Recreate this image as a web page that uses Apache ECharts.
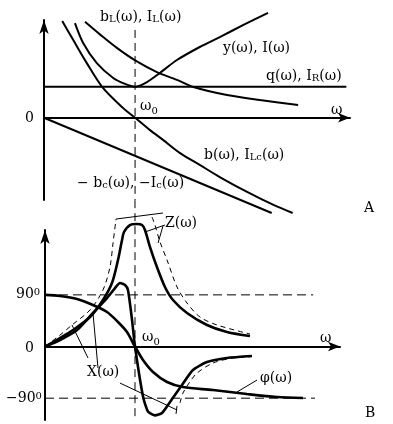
<!DOCTYPE html>
<html><head><meta charset="utf-8">
<script src="https://cdn.jsdelivr.net/npm/echarts@6/dist/echarts.min.js"></script>
<style>html,body{margin:0;padding:0;background:#fff}#c{width:393px;height:424px}</style>
</head><body><div id="c"></div>
<script>
// ---------- Panel A : admittances / currents (ω in units of ω0, values in units of q) ----------
const bCurve  = [[0.20,3.12],[0.32,2.51],[0.47,1.76],[0.64,0.99],[0.87,0.31],[1.0,0],[1.16,-0.39],[1.31,-0.72],[1.49,-1.13],[1.71,-1.52],[1.93,-1.91],[2.23,-2.39],[2.52,-2.81],[2.73,-3.07]];
const yCurve  = [[0.34,3.05],[0.43,2.41],[0.58,1.76],[0.76,1.28],[0.89,1.09],[1.0,1.0],[1.13,1.15],[1.27,1.44],[1.46,1.86],[1.71,2.28],[1.93,2.60],[2.19,2.99],[2.46,3.38]];
const bLCurve = [[0.45,3.09],[0.62,2.67],[0.80,2.25],[1.01,1.83],[1.24,1.47],[1.46,1.22],[1.64,0.99],[2.01,0.73],[2.37,0.57],[2.79,0.41]];
const bCLine  = [[0,0],[2.50,-3.07]];
const qLine   = [[0,1],[3.32,1]];
const w0LineA = [[1,2.83],[1,-2.65]];

// ---------- Panel B : impedances / phase (ω in units of ω0, values in degrees scale) ----------
const zCurve  = [[0,0],[0.167,14.8],[0.311,28.7],[0.5,51.4],[0.644,81],[0.744,110.6],[0.811,150.7],[0.856,185.5],[0.878,199.5],[0.944,211.7],[1.022,213.4],[1.078,211.7],[1.111,203],[1.167,173.3],[1.244,138.5],[1.333,103.7],[1.422,81],[1.578,58.4],[1.8,37.5],[2.022,25.3],[2.278,18.3]];
const zDashL  = [[0,0],[0.167,20],[0.3,37.5],[0.5,63.6],[0.644,98.4],[0.722,138.5],[0.756,180.3],[0.789,222.1]];
const zDashR  = [[1.189,225.6],[1.222,211.7],[1.278,182.1],[1.356,150.7],[1.467,103.7],[1.578,75.8],[1.722,51.4],[1.911,37.5],[2.278,21.8]];
const xCurve  = [[0,0],[0.167,11.3],[0.356,28.7],[0.533,58.4],[0.689,84.5],[0.778,101.9],[0.833,110.6],[0.889,107.1],[0.922,98.4],[0.967,46.2],[1.0,0],[1.089,-87],[1.144,-113.1],[1.222,-120],[1.3,-115.9],[1.389,-96.7],[1.522,-67.1],[1.644,-41],[1.8,-27],[2.022,-20],[2.3,-16.6]];
const xDashR  = [[1.5,-98.4],[1.533,-81],[1.611,-61.3],[1.689,-46.2],[1.867,-28.7],[2.089,-20],[2.278,-18.3]];
const phiCurve= [[0,90],[0.167,88],[0.356,82.8],[0.533,72.3],[0.689,60.1],[0.811,42.7],[0.911,25.3],[0.978,6.1],[1.0,0],[1.089,-23.5],[1.2,-44.4],[1.356,-61.8],[1.533,-70.6],[1.867,-75.8],[2.244,-82.8],[2.578,-88],[2.867,-89.7]];
const plus90  = [[0,90],[2.98,90]];
const minus90 = [[0,-90],[3.0,-90]];
const w0LineB = [[1,255],[1,-128]];
// leader lines in panel B
const leaders = [
  [[1.333,211.7],[1.111,199.5]],
  [[1.311,209.9],[1.256,180.3]],
  [[0.789,222.1],[1.311,232.6]],
  [[0.478,-20],[0.3,37.5]],
  [[0.589,-37.5],[0.533,58.4]],
  [[0.833,-63.6],[1.467,-110.6]],
  [[1.467,-103.5],[1.456,-117.4]],
  [[2.356,-58.4],[2.133,-79.3]]
];

const FONT = 'DejaVu Serif';
const chart = echarts.init(document.getElementById('c'), null, {renderer:'canvas'});

function axisX(grid, max){
  return {gridIndex:grid, type:'value', min:0, max:max,
    axisLine:{onZero:true, symbol:['none','arrow'], symbolSize:[7,12], lineStyle:{color:'#000',width:2}},
    axisTick:{show:false}, axisLabel:{show:false}, splitLine:{show:false}};
}
function axisY(grid, min, max){
  return {gridIndex:grid, type:'value', min:min, max:max,
    axisLine:{show:true, symbol:['none','arrow'], symbolSize:[7,14], lineStyle:{color:'#000',width:2}},
    axisTick:{show:false}, axisLabel:{show:false}, splitLine:{show:false}};
}
function ln(data, g, opt){
  opt = opt || {};
  return {type:'line', xAxisIndex:g, yAxisIndex:g, data:data, symbol:'none', clip:false, silent:true,
    smooth: opt.smooth===undefined ? 0.3 : opt.smooth,
    lineStyle:{color:'#000', width: opt.w||2, type: opt.type||'solid'}, z: opt.z||2};
}

const series = [
  ln(qLine,0,{smooth:false}),
  ln(bCLine,0,{smooth:false}),
  ln(bCurve,0),
  ln(yCurve,0),
  ln(bLCurve,0),
  ln(w0LineA,0,{smooth:false,w:1,type:[8,5]}),
  ln(plus90,1,{smooth:false,w:1,type:[9,5]}),
  ln(minus90,1,{smooth:false,w:1,type:[9,5]}),
  ln(w0LineB,1,{smooth:false,w:1,type:[8,5]}),
  ln(zDashL,1,{w:1,type:[5,4]}),
  ln(zDashR,1,{w:1,type:[5,4]}),
  ln(xDashR,1,{w:1,type:[5,4]}),
  ln(zCurve,1,{w:2.6}),
  ln(xCurve,1,{w:2.6,smooth:0.2}),
  ln(phiCurve,1,{w:2.6})
];
leaders.forEach(l => series.push(ln(l,1,{smooth:false,w:1})));

const n = {fontFamily:FONT, fontSize:14, color:'#000', verticalAlign:'bottom'};
const s = {fontFamily:FONT, fontSize:10, color:'#000', verticalAlign:'bottom'};
const sub = {fontFamily:FONT, fontSize:10, color:'#000', verticalAlign:'bottom', padding:[0,0,-3,0]};
const sup = {fontFamily:FONT, fontSize:10, color:'#000', verticalAlign:'top'};
const rich = {n:n, s:s, sub:sub, sup:sup};
function txt(x, y, text, align){
  return {type:'text', x:x, y:y, z:10, silent:true,
    style:{text:text, rich:rich, align:align||'left', verticalAlign:'middle', fill:'#000', font:'14px '+FONT}};
}
const graphic = [
  txt(100,17,'{n|b}{s|L}{n|(ω), I}{s|L}{n|(ω)}'),
  txt(223,48,'{n|y(ω), I(ω)}'),
  txt(266,76,'{n|q(ω), I}{s|R}{n|(ω)}'),
  txt(331,110,'{n|ω}'),
  txt(140,106,'{n|ω}{sub|0}'),
  txt(34,118,'{n|0}','right'),
  txt(204,155,'{n|b(ω), I}{s|Lc}{n|(ω)}'),
  txt(77,183,'{n|− b}{s|c}{n|(ω), −I}{s|c}{n|(ω)}'),
  txt(364,208,'{n|A}'),
  txt(165,223,'{n|Z(ω)}'),
  txt(16,294,'{n|90}{sup|0}'),
  txt(34,348,'{n|0}','right'),
  txt(6,398,'{n|−90}{sup|0}'),
  txt(142,337,'{n|ω}{sub|0}'),
  txt(320,338,'{n|ω}'),
  txt(87,372,'{n|X(ω)}'),
  txt(260,378,'{n|φ(ω)}'),
  txt(365,413,'{n|B}')
];

chart.setOption({
  animation:false,
  backgroundColor:'#fff',
  grid:[{left:44, top:20, width:306, height:180},{left:45, top:230, width:295, height:190}],
  xAxis:[axisX(0,3.36), axisX(1,3.278)],
  yAxis:[axisY(0,-2.65,3.15), axisY(1,-128,203)],
  series:series,
  graphic:graphic
});
</script>
</body></html>
